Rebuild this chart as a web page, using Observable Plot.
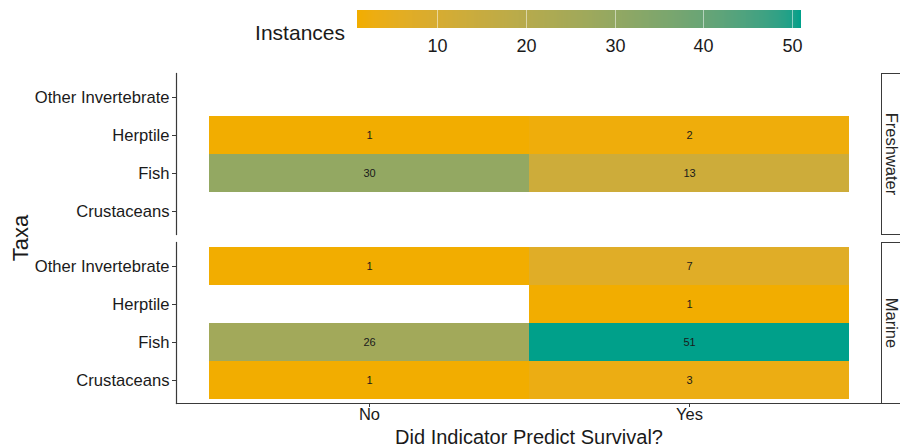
<!DOCTYPE html>
<html>
<head>
<meta charset="utf-8">
<script src="https://cdn.jsdelivr.net/npm/d3@7"></script>
<script src="https://cdn.jsdelivr.net/npm/@observablehq/plot@0.6"></script>
<style>
  html, body { margin: 0; padding: 0; background: #fff; overflow: hidden; }
  #wrap { position: relative; width: 900px; height: 448px; overflow: hidden; font-family: "Liberation Sans", Arial, sans-serif; }
  #legend { position: absolute; left: 0; top: 0; width: 900px; height: 62px; }
  #chart { position: absolute; left: 0; top: 62px; width: 900px; height: 386px; overflow: hidden; }
  #overlay { position: absolute; left: 0; top: 0; pointer-events: none; }
</style>
</head>
<body>
<div id="wrap">
  <div id="legend"></div>
  <div id="chart"></div>
  <svg id="overlay" width="900" height="448"></svg>
</div>
<script>
// ---- data ----
const habitats = ["Freshwater", "Marine"];
const taxa = ["Other Invertebrate", "Herptile", "Fish", "Crustaceans"];
const answers = ["No", "Yes"];
// counts per taxon (same order as taxa); null = no observation
const freshwaterNo  = [null, 1, 30, null];
const freshwaterYes = [null, 2, 13, null];
const marineNo      = [1, null, 26, 1];
const marineYes     = [7, 1, 51, 3];
const legendTicks = [10, 20, 30, 40, 50];
const colorDomain = [1, 51];
const lowColor = "#F2AD00";
const highColor = "#00A08A";
const legendTitle = "Instances";
const xTitle = "Did Indicator Predict Survival?";
const yTitle = "Taxa";

const series = [
  {habitat: "Freshwater", answer: "No", values: freshwaterNo},
  {habitat: "Freshwater", answer: "Yes", values: freshwaterYes},
  {habitat: "Marine", answer: "No", values: marineNo},
  {habitat: "Marine", answer: "Yes", values: marineYes}
];
const table = [];
for (const s of series) {
  s.values.forEach((v, i) => {
    if (v != null) table.push({habitat: s.habitat, answer: s.answer, taxon: taxa[i], n: v});
  });
}

const FONT = "Liberation Sans, Arial, sans-serif";
const INK = "#1a1a1a";
const LINE = "#3a3a3a";
const colorOpts = {type: "linear", domain: colorDomain, range: [lowColor, highColor], interpolate: "lab"};

// ---- legend ----
const legend = Plot.legend({
  color: colorOpts,
  width: 900, height: 62,
  marginLeft: 357, marginRight: 99, marginTop: 10, marginBottom: 34,
  ticks: legendTicks, tickSize: 8, label: null,
  style: {fontSize: "18px", fontFamily: FONT, color: INK, background: "transparent"}
});
d3.select(legend).selectAll(".tick line")
  .attr("stroke", "white").attr("stroke-opacity", 0.5)
  .attr("y1", -18).attr("y2", 0);
document.getElementById("legend").appendChild(legend);

// ---- main chart ----
const chart = Plot.plot({
  width: 900, height: 386,
  marginTop: 10, marginBottom: 45, marginLeft: 176, marginRight: 19,
  style: {fontFamily: FONT, fontSize: "16px", color: INK, background: "transparent"},
  x: {domain: answers, paddingInner: 0, paddingOuter: 0.1, label: null},
  y: {domain: taxa, paddingInner: 0, paddingOuter: 0.1, label: null},
  fy: {domain: habitats, paddingInner: 0.048, paddingOuter: 0, label: null, axis: null},
  color: colorOpts,
  marks: [
    Plot.cell(table, {x: "answer", y: "taxon", fy: "habitat", fill: "n", inset: 0}),
    Plot.text(table, {x: "answer", y: "taxon", fy: "habitat", text: "n", fontSize: 11, fill: INK}),
    Plot.axisX({tickSize: 4, tickPadding: 1, fontSize: 16.5, label: null, stroke: LINE}),
    Plot.axisX({ticks: [], label: xTitle, labelAnchor: "center", labelArrow: "none", labelOffset: 40, fontSize: 20}),
    Plot.axisY({tickSize: 4, tickPadding: 3, fontSize: 16.6, label: null, stroke: LINE}),
    Plot.text(habitats, {fy: (d) => d, text: (d) => d, frameAnchor: "right", rotate: 90, dx: 10,
      textAnchor: "middle", lineAnchor: "middle", fontSize: 16.5, fill: "#262626"}),
    Plot.frame({anchor: "left", stroke: LINE, strokeWidth: 1.2}),
    Plot.frame({anchor: "bottom", facetAnchor: "bottom", stroke: LINE, strokeWidth: 1.2}),
    Plot.frame({dx: 705, stroke: LINE, strokeWidth: 1})
  ]
});
document.getElementById("chart").appendChild(chart);

// ---- titles (text) ----
const ov = d3.select("#overlay");
ov.append("text").attr("x", 345).attr("y", 40).attr("text-anchor", "end")
  .attr("font-family", FONT).attr("font-size", 21).attr("fill", INK).text(legendTitle);
ov.append("text").attr("transform", "translate(28,238) rotate(-90)").attr("text-anchor", "middle")
  .attr("font-family", FONT).attr("font-size", 22).attr("fill", INK).text(yTitle);
</script>
</body>
</html>
